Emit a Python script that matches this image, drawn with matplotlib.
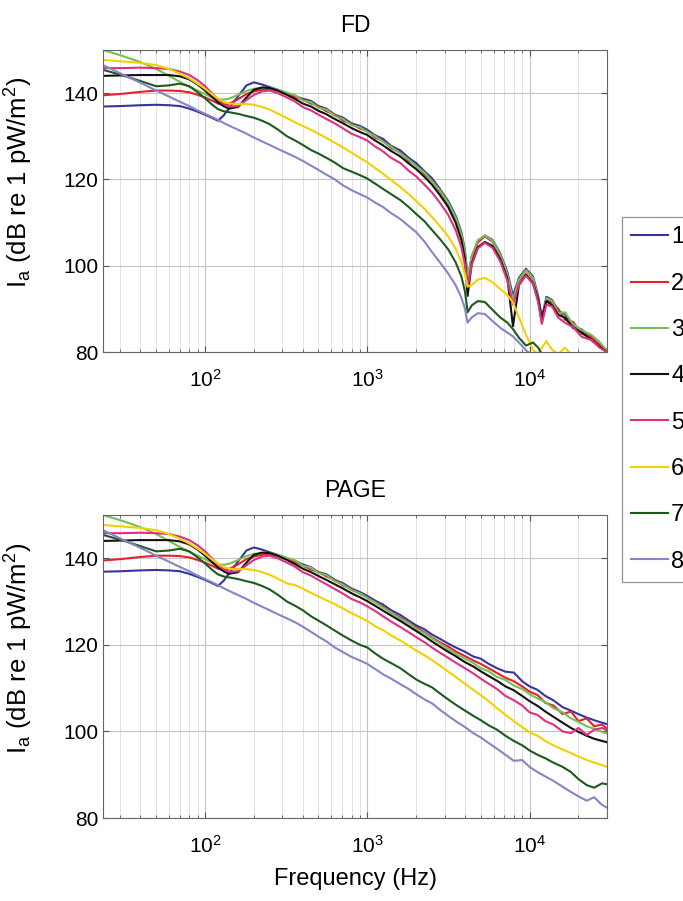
import numpy as np
import matplotlib
matplotlib.use('Agg')
import matplotlib.pyplot as plt
from matplotlib.ticker import LogLocator, FixedLocator, NullFormatter

plt.rcParams['font.family'] = ['Liberation Sans', 'DejaVu Sans']
plt.rcParams['mathtext.fontset'] = 'custom'
plt.rcParams['mathtext.rm'] = 'Liberation Sans'
plt.rcParams['mathtext.it'] = 'Liberation Sans:italic'

# data (Hz, dB)
#-------------------------------------------------------------------------------
labels = ['1', '2', '3', '4', '5', '6', '7', '8']
colors = ['#3535a0', '#e8202a', '#74c052', '#111111',
          '#e0307f', '#f5d000', '#1e5a1e', '#8585c8']

# low-frequency part, identical in both panels
freq_low = [23.5, 30, 40, 50, 60, 70, 80, 90, 100, 110, 120, 130, 140, 160,
            180, 200, 225, 250, 280, 320]
low_db = [
    [136.9, 137.0, 137.2, 137.3, 137.2, 137.0, 136.4, 135.7, 135.0, 134.3, 133.6, 134.8, 136.4, 139.3, 141.8, 142.5, 142.0, 141.4, 140.8, 140.0],
    [139.5, 139.8, 140.3, 140.6, 140.6, 140.5, 140.2, 139.6, 139.0, 138.3, 137.6, 137.3, 137.5, 138.6, 139.8, 140.4, 140.8, 141.0, 140.6, 139.8],
    [150.0, 148.8, 147.2, 145.6, 144.0, 142.6, 141.5, 140.6, 139.8, 139.0, 138.6, 138.5, 138.7, 139.6, 140.5, 141.0, 141.3, 141.2, 140.8, 140.1],
    [144.0, 144.1, 144.2, 144.2, 144.2, 143.9, 143.2, 142.0, 140.6, 139.2, 137.9, 137.0, 136.4, 136.8, 139.0, 140.8, 141.3, 141.2, 140.6, 139.6],
    [145.8, 145.8, 145.9, 145.8, 145.6, 145.0, 144.2, 143.0, 141.6, 140.0, 138.6, 137.5, 136.9, 137.0, 138.4, 139.6, 140.4, 140.6, 140.0, 139.0],
    [147.7, 147.4, 147.0, 146.5, 145.6, 144.5, 143.4, 142.2, 141.0, 139.8, 138.8, 138.0, 137.6, 137.5, 137.5, 137.3, 136.8, 136.2, 135.3, 134.2],
    [145.4, 144.3, 142.8, 141.6, 141.8, 142.2, 141.6, 140.2, 138.8, 137.4, 136.3, 135.8, 135.6, 135.2, 134.7, 134.3, 133.6, 132.8, 131.6, 130.0],
    [146.5, 144.6, 142.4, 140.6, 139.2, 138.0, 137.0, 136.0, 135.2, 134.5, 133.8, 133.1, 132.5, 131.5, 130.6, 129.7, 128.8, 128.0, 127.1, 126.1],
]

# FD, high-frequency part
freq_fd = [360, 400, 450, 500, 560, 630, 710, 800, 900, 1000, 1120, 1250, 1400,
           1600, 1800, 2000, 2250, 2500, 2800, 3150, 3500, 3800, 4000, 4150,
           4400, 4800, 5300, 5900, 6600, 7300, 7900, 8600, 9500, 10500, 11300,
           11900, 12700, 13800, 15000, 16500, 18500, 21000, 24000, 27000, 30000]
fd_db = [
    [139.3, 138.7, 138.2, 137.0, 136.4, 135.0, 134.3, 133.0, 132.4, 131.5, 130.2, 129.4, 127.8, 126.7, 125.0, 123.8, 121.9, 120.3, 117.8, 115.0, 111.6, 107.8, 103.5, 97.0, 102.0, 105.8, 107.0, 106.0, 102.8, 98.5, 93.0, 97.2, 99.3, 97.5, 93.0, 88.0, 92.8, 92.0, 89.5, 88.8, 86.0, 85.2, 83.0, 81.8, 80.2],
    [139.0, 138.5, 137.6, 136.9, 135.8, 135.0, 133.6, 132.9, 131.8, 131.2, 129.7, 128.9, 127.3, 126.2, 124.3, 123.3, 121.3, 119.7, 117.3, 114.4, 111.0, 107.0, 102.5, 96.0, 101.6, 105.4, 106.8, 105.6, 102.3, 97.8, 91.5, 96.5, 99.0, 97.0, 92.0, 87.0, 92.0, 91.4, 90.0, 87.5, 87.0, 84.2, 83.6, 81.5, 80.5],
    [139.5, 138.3, 137.9, 136.6, 136.2, 134.7, 134.0, 132.6, 132.1, 131.0, 130.0, 128.7, 127.6, 126.0, 124.6, 123.1, 121.6, 119.6, 117.5, 114.6, 111.2, 107.4, 103.0, 97.5, 102.3, 105.9, 107.0, 105.8, 102.5, 98.0, 92.0, 96.8, 99.0, 97.2, 92.5, 86.5, 92.5, 91.8, 89.0, 89.2, 86.5, 85.0, 84.0, 82.3, 80.3],
    [138.6, 137.6, 136.9, 135.9, 135.1, 134.0, 133.0, 131.9, 131.0, 130.3, 129.0, 127.9, 126.6, 125.3, 123.7, 122.4, 120.6, 118.8, 116.4, 113.6, 110.0, 106.0, 101.5, 93.0, 100.5, 104.3, 105.5, 104.6, 101.5, 97.0, 86.0, 95.5, 98.0, 96.0, 92.2, 87.5, 91.8, 90.8, 88.6, 88.0, 85.6, 84.5, 82.8, 81.2, 80.0],
    [138.0, 136.8, 136.0, 135.0, 134.0, 133.0, 131.8, 130.6, 129.8, 129.0, 127.6, 126.5, 125.0, 123.8, 122.0, 120.7, 118.8, 117.0, 114.6, 111.8, 108.3, 104.3, 100.0, 95.0, 100.2, 104.0, 105.3, 104.2, 101.0, 96.5, 91.0, 95.5, 97.7, 95.8, 91.5, 86.6, 91.0, 90.5, 88.0, 86.8, 85.8, 83.5, 82.8, 81.0, 80.0],
    [133.2, 132.4, 131.5, 130.6, 129.6, 128.5, 127.4, 126.2, 125.0, 124.0, 122.6, 121.3, 119.9, 118.2, 116.6, 115.0, 113.2, 111.3, 109.2, 106.8, 104.0, 100.8, 98.0, 95.2, 95.5, 96.8, 97.2, 96.2, 94.6, 93.2, 91.5, 88.0, 84.0, 80.5, 79.5, 81.0, 82.5, 80.5, 79.5, 81.0, 79.0, 78.0, 77.0, 76.0, 75.0],
    [129.0, 128.0, 126.8, 126.0, 125.0, 123.9, 122.6, 121.8, 121.0, 120.2, 119.0, 117.8, 116.6, 115.2, 113.6, 112.0, 110.3, 108.3, 106.2, 103.8, 100.8, 97.5, 94.0, 89.2, 90.8, 91.8, 91.6, 89.8, 88.0, 86.8, 85.3, 83.3, 81.5, 82.2, 81.0, 79.5, 79.0, 78.0, 77.5, 77.0, 76.5, 76.0, 75.5, 75.0, 74.5],
    [125.2, 124.3, 123.2, 122.2, 121.1, 120.0, 118.6, 117.5, 116.6, 115.8, 114.6, 113.6, 112.2, 110.8, 109.2, 107.8, 105.6, 103.2, 100.8, 98.2, 95.5, 92.6, 90.0, 86.8, 88.0, 89.0, 88.8, 87.2, 85.6, 84.5, 83.6, 82.2, 80.4, 79.2, 78.5, 78.0, 77.5, 77.0, 76.5, 76.0, 75.5, 75.0, 74.5, 74.0, 73.5],
]

# PAGE, high-frequency part
freq_page = [360, 400, 450, 500, 560, 630, 710, 800, 900, 1000, 1120, 1250,
             1400, 1600, 1800, 2000, 2250, 2500, 2800, 3150, 3500, 4000, 4500,
             5000, 5600, 6300, 7100, 8000, 9000, 10000, 11200, 12500, 14000,
             16000, 18000, 20000, 22500, 25000, 28000, 30000]
page_db = [
    [139.3, 138.6, 137.9, 136.8, 136.3, 135.0, 134.2, 133.0, 132.2, 131.3, 130.2, 129.3, 128.0, 126.9, 125.6, 124.5, 123.6, 122.4, 121.4, 120.3, 119.4, 118.4, 117.3, 116.8, 115.6, 114.6, 113.8, 113.6, 111.6, 110.4, 109.6, 108.2, 107.2, 105.6, 104.8, 104.0, 103.2, 102.6, 102.0, 101.7],
    [139.0, 138.3, 137.4, 136.8, 135.8, 135.0, 133.7, 132.9, 131.8, 131.0, 129.8, 128.8, 127.5, 126.3, 125.0, 124.0, 122.9, 121.7, 120.6, 119.6, 118.5, 117.4, 116.4, 115.6, 114.6, 113.5, 112.4, 111.6, 110.4, 109.2, 108.4, 106.6, 106.0, 104.0, 104.6, 102.4, 103.0, 101.2, 101.6, 100.6],
    [139.5, 138.3, 137.8, 136.6, 136.1, 134.7, 133.9, 132.6, 131.9, 130.8, 129.8, 128.6, 127.5, 126.0, 125.0, 123.7, 122.7, 121.5, 120.3, 119.0, 118.0, 116.8, 115.8, 114.6, 113.9, 112.6, 111.9, 110.6, 109.8, 108.6, 107.6, 106.8, 105.4, 104.4, 103.0, 102.2, 101.2, 100.6, 99.9, 99.5],
    [138.6, 137.6, 136.8, 135.9, 135.0, 134.0, 133.0, 131.9, 131.0, 130.1, 129.0, 127.9, 126.8, 125.5, 124.3, 123.2, 122.0, 120.8, 119.6, 118.4, 117.4, 116.0, 115.0, 113.9, 112.8, 111.7, 110.4, 109.5, 108.2, 107.0, 105.9, 104.6, 103.4, 102.0, 100.8, 99.9, 99.0, 98.3, 97.8, 97.5],
    [138.0, 136.8, 136.0, 135.0, 134.0, 132.9, 131.8, 130.6, 129.8, 128.9, 127.8, 126.6, 125.4, 124.1, 122.9, 121.8, 120.6, 119.4, 118.2, 117.0, 115.9, 114.6, 113.4, 112.2, 111.0, 109.8, 108.2, 107.2, 106.0, 104.4, 103.8, 102.4, 101.6, 100.0, 99.6, 100.8, 99.2, 100.4, 100.8, 100.2],
    [133.8, 133.0, 132.0, 131.2, 130.3, 129.4, 128.4, 127.3, 126.4, 125.5, 124.3, 123.4, 122.2, 121.0, 119.8, 118.7, 117.6, 116.5, 115.2, 113.8, 112.6, 111.0, 109.6, 108.4, 107.0, 105.4, 103.8, 102.4, 101.0, 99.8, 99.0, 97.8, 96.8, 95.8, 95.0, 94.2, 93.4, 92.8, 92.2, 91.8],
    [129.0, 128.0, 126.6, 125.6, 124.5, 123.3, 122.1, 121.0, 120.0, 119.4, 118.0, 116.8, 115.8, 114.6, 113.2, 112.0, 111.0, 110.2, 108.8, 107.4, 106.2, 104.8, 103.6, 102.6, 101.4, 100.4, 99.0, 97.8, 96.8, 95.6, 94.6, 93.8, 92.8, 91.8, 90.6, 89.0, 87.6, 87.0, 88.0, 87.8],
    [125.2, 124.2, 123.0, 121.9, 120.8, 119.4, 118.3, 117.2, 116.4, 115.6, 114.4, 113.2, 112.2, 110.9, 109.8, 108.6, 107.4, 106.5, 105.0, 103.6, 102.4, 101.0, 99.6, 98.6, 97.3, 96.0, 94.6, 93.2, 93.4, 91.8, 90.6, 89.6, 88.6, 87.2, 86.0, 85.0, 84.0, 84.8, 83.0, 82.4],
]

# plotting
#-------------------------------------------------------------------------------
W, H = 683, 901
fig = plt.figure(figsize=(W / 100, H / 100), dpi=100)

ax_fd = fig.add_axes([103 / W, 1 - 352 / H, 504 / W, 302 / H])
ax_pg = fig.add_axes([103 / W, 1 - 818 / H, 504 / W, 303 / H])

ylab = r'I$_{\mathregular{a}}$ (dB re 1 pW/m$^{\mathregular{2}}$)'

for ax, title, freq_high, high_db in [(ax_fd, 'FD', freq_fd, fd_db),
                                      (ax_pg, 'PAGE', freq_page, page_db)]:
    for i in range(len(labels)):
        f = np.array(freq_low + freq_high)
        v = np.array(low_db[i] + high_db[i])
        ax.plot(f, v, color=colors[i], lw=1.5, label=labels[i])

    ax.set_xscale('log')
    ax.set_xlim(23.5, 30000)
    ax.set_ylim(80, 150)
    ax.yaxis.set_major_locator(FixedLocator([80, 100, 120, 140]))
    ax.xaxis.set_major_locator(LogLocator(base=10, numticks=10))
    ax.xaxis.set_minor_locator(LogLocator(base=10, subs=np.arange(2, 10), numticks=20))
    ax.xaxis.set_minor_formatter(NullFormatter())

    ax.grid(True, which='major', color='#c4c4c4', lw=0.8)
    ax.grid(True, which='minor', axis='x', color='#e2e2e2', lw=0.7)
    ax.set_axisbelow(True)

    ax.tick_params(which='both', direction='in', top=True, right=True,
                   color='#555555', labelsize=15)
    ax.tick_params(axis='x', which='major', pad=12)
    ax.tick_params(which='major', length=4)
    ax.tick_params(which='minor', length=2)
    for s in ax.spines.values():
        s.set_color('#666666')
        s.set_linewidth(0.8)

    ax.set_title(title, fontsize=16.5, pad=13)
    ax.set_ylabel(ylab, fontsize=18.5)
    ax.yaxis.set_label_coords(-0.135, 0.56)

ax_pg.set_xlabel('Frequency (Hz)', fontsize=17, labelpad=8)

handles, _ = ax_fd.get_legend_handles_labels()
leg = fig.legend(handles, labels, loc='upper left',
                 bbox_to_anchor=(622 / W, 1 - 217 / H),
                 fontsize=17, handlelength=1.55, handletextpad=0.13,
                 labelspacing=1.03, borderpad=0.4, frameon=True,
                 fancybox=False, borderaxespad=0)
leg.get_frame().set_edgecolor('#777777')
leg.get_frame().set_linewidth(0.9)

fig.savefig('out.png', dpi=100)
